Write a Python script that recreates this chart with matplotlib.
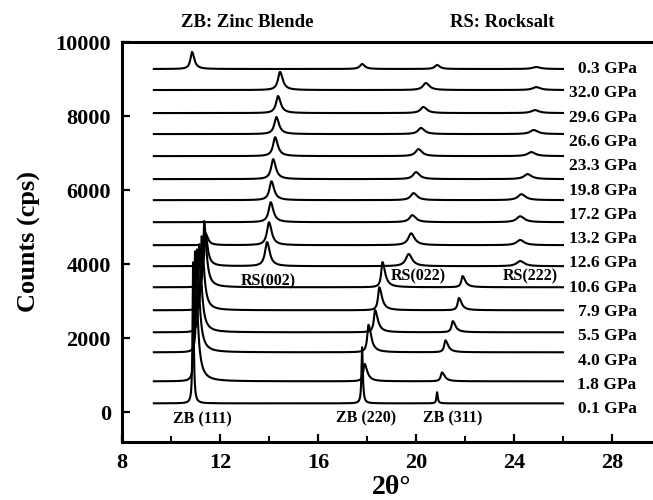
import numpy as np
import matplotlib
matplotlib.use('Agg')
import matplotlib.pyplot as plt

# baseline offset of every trace (bottom -> top), counts
offsets = [243, 838, 1622, 2162, 2757, 3378, 3946, 4514,
           5135, 5730, 6298, 6919, 7514, 8081, 8703, 9271]

# zinc blende peaks (position deg, height counts), 0 = absent
zb111_pos = [10.90, 10.98, 11.06, 11.15, 11.25, 11.35, 11.40, 11.42,
             0, 0, 0, 0, 0, 0, 0, 10.86]
zb111_h = [3810, 3510, 2780, 2380, 2000, 1790, 900, 300,
           0, 0, 0, 0, 0, 0, 0, 460]
zb220_pos = [17.80, 17.90, 18.06, 18.33, 18.50, 18.63, 0, 0,
             0, 0, 0, 0, 0, 0, 0, 17.80]
zb220_h = [1520, 470, 740, 600, 620, 680, 0, 0,
           0, 0, 0, 0, 0, 0, 0, 135]
zb311_pos = [20.86, 21.06, 21.20, 21.50, 21.75, 21.90, 0, 0,
             0, 0, 0, 0, 0, 0, 0, 20.86]
zb311_h = [300, 240, 320, 300, 330, 300, 0, 0,
           0, 0, 0, 0, 0, 0, 0, 110]

# rocksalt peaks
rs002_pos = [0, 0, 0, 0, 0, 0, 13.92, 14.00,
             14.07, 14.10, 14.17, 14.25, 14.30, 14.37, 14.45, 0]
rs002_h = [0, 0, 0, 0, 0, 0, 650, 620,
           540, 510, 540, 510, 460, 460, 490, 0]
rs022_pos = [0, 0, 0, 0, 0, 0, 19.70, 19.80,
             19.85, 19.90, 20.00, 20.10, 20.20, 20.30, 20.40, 0]
rs022_h = [0, 0, 0, 0, 0, 0, 330, 320,
           190, 190, 190, 190, 165, 165, 190, 0]
rs222_pos = [0, 0, 0, 0, 0, 0, 24.25, 24.25,
             24.25, 24.30, 24.55, 24.70, 24.80, 24.85, 24.90, 24.90]
rs222_h = [0, 0, 0, 0, 0, 0, 140, 140,
           160, 160, 135, 110, 110, 80, 80, 55]

# pressure labels (top -> bottom)
labels = ['0.3 GPa', '32.0 GPa', '29.6 GPa', '26.6 GPa', '23.3 GPa',
          '19.8 GPa', '17.2 GPa', '13.2 GPa', '12.6 GPa', '10.6 GPa',
          '7.9 GPa', '5.5 GPa', '4.0 GPa', '1.8 GPa', '0.1 GPa']


def peak(x, c, h, wl, wr):
    if h == 0:
        return np.zeros_like(x)
    w = np.where(x < c, wl, wr)
    return h / (1 + ((x - c) / w) ** 2)


plt.rcParams['font.family'] = 'Liberation Serif'
plt.rcParams['font.weight'] = 'bold'

fig = plt.figure(figsize=(6.53, 5.0), dpi=100)
ax = fig.add_axes([122 / 653, 58 / 500, 539 / 653, 400 / 500])

x = np.linspace(9.3, 26.0, 5000)
for i, off in enumerate(offsets):
    if i == 0:              # 0.1 GPa: very sharp ZB lines
        w111 = (0.025, 0.03)
        w2 = (0.03, 0.035)
    elif i == 15:           # 0.3 GPa after release
        w111 = (0.08, 0.11)
        w2 = (0.11, 0.13)
    else:
        w111 = (0.035, 0.11)
        w2 = (0.06, 0.13)
    y = np.full_like(x, off, dtype=float)
    y += peak(x, zb111_pos[i], zb111_h[i], *w111)
    y += peak(x, zb220_pos[i], zb220_h[i], *w2)
    y += peak(x, zb311_pos[i], zb311_h[i], *w2)
    y += peak(x, rs002_pos[i], rs002_h[i], 0.10, 0.13)
    y += peak(x, rs022_pos[i], rs022_h[i], 0.14, 0.17)
    y += peak(x, rs222_pos[i], rs222_h[i], 0.17, 0.20)
    ax.plot(x, y, color='black', lw=1.5)

label_y = np.linspace(9271, 81, len(labels))
for lab, yy in zip(labels, label_y):
    ax.text(29.0, yy, lab, ha='right', va='center', fontsize=12.5,
            fontweight='bold', clip_on=False)

# peak annotations
ax.text(11.27, -190, 'ZB (111)', ha='center', va='center', fontsize=11.5)
ax.text(17.96, -170, 'ZB (220)', ha='center', va='center', fontsize=11.5)
ax.text(21.50, -170, 'ZB (311)', ha='center', va='center', fontsize=11.5)
ax.text(13.96, 3540, 'RS(002)', ha='center', va='center', fontsize=11.5)
ax.text(20.08, 3676, 'RS(022)', ha='center', va='center', fontsize=11.5)
ax.text(24.65, 3676, 'RS(222)', ha='center', va='center', fontsize=11.5)

ax.text(13.1, 10540, 'ZB: Zinc Blende', ha='center', va='center',
        fontsize=13.5, clip_on=False)
ax.text(23.5, 10540, 'RS: Rocksalt', ha='center', va='center',
        fontsize=13.5, clip_on=False)

ax.set_xlim(8, 30)
ax.set_ylim(-800, 10000)
ax.set_xticks([8, 12, 16, 20, 24, 28])
ax.set_xticks([10, 14, 18, 22, 26], minor=True)
ax.set_yticks([0, 2000, 4000, 6000, 8000, 10000])
ax.tick_params(direction='in', length=6, width=1.6, labelsize=16, pad=8)
ax.tick_params(axis='x', which='minor', direction='in', length=4, width=1.4)
for lab in ax.get_xticklabels() + ax.get_yticklabels():
    lab.set_fontweight('bold')
for s in ax.spines.values():
    s.set_linewidth(2.2)

ax.set_xlabel('2θ°', fontsize=20, fontweight='bold', labelpad=1)
ax.set_ylabel('Counts (cps)', fontsize=19, fontweight='bold', labelpad=10)

fig.savefig('out.png', dpi=100)
